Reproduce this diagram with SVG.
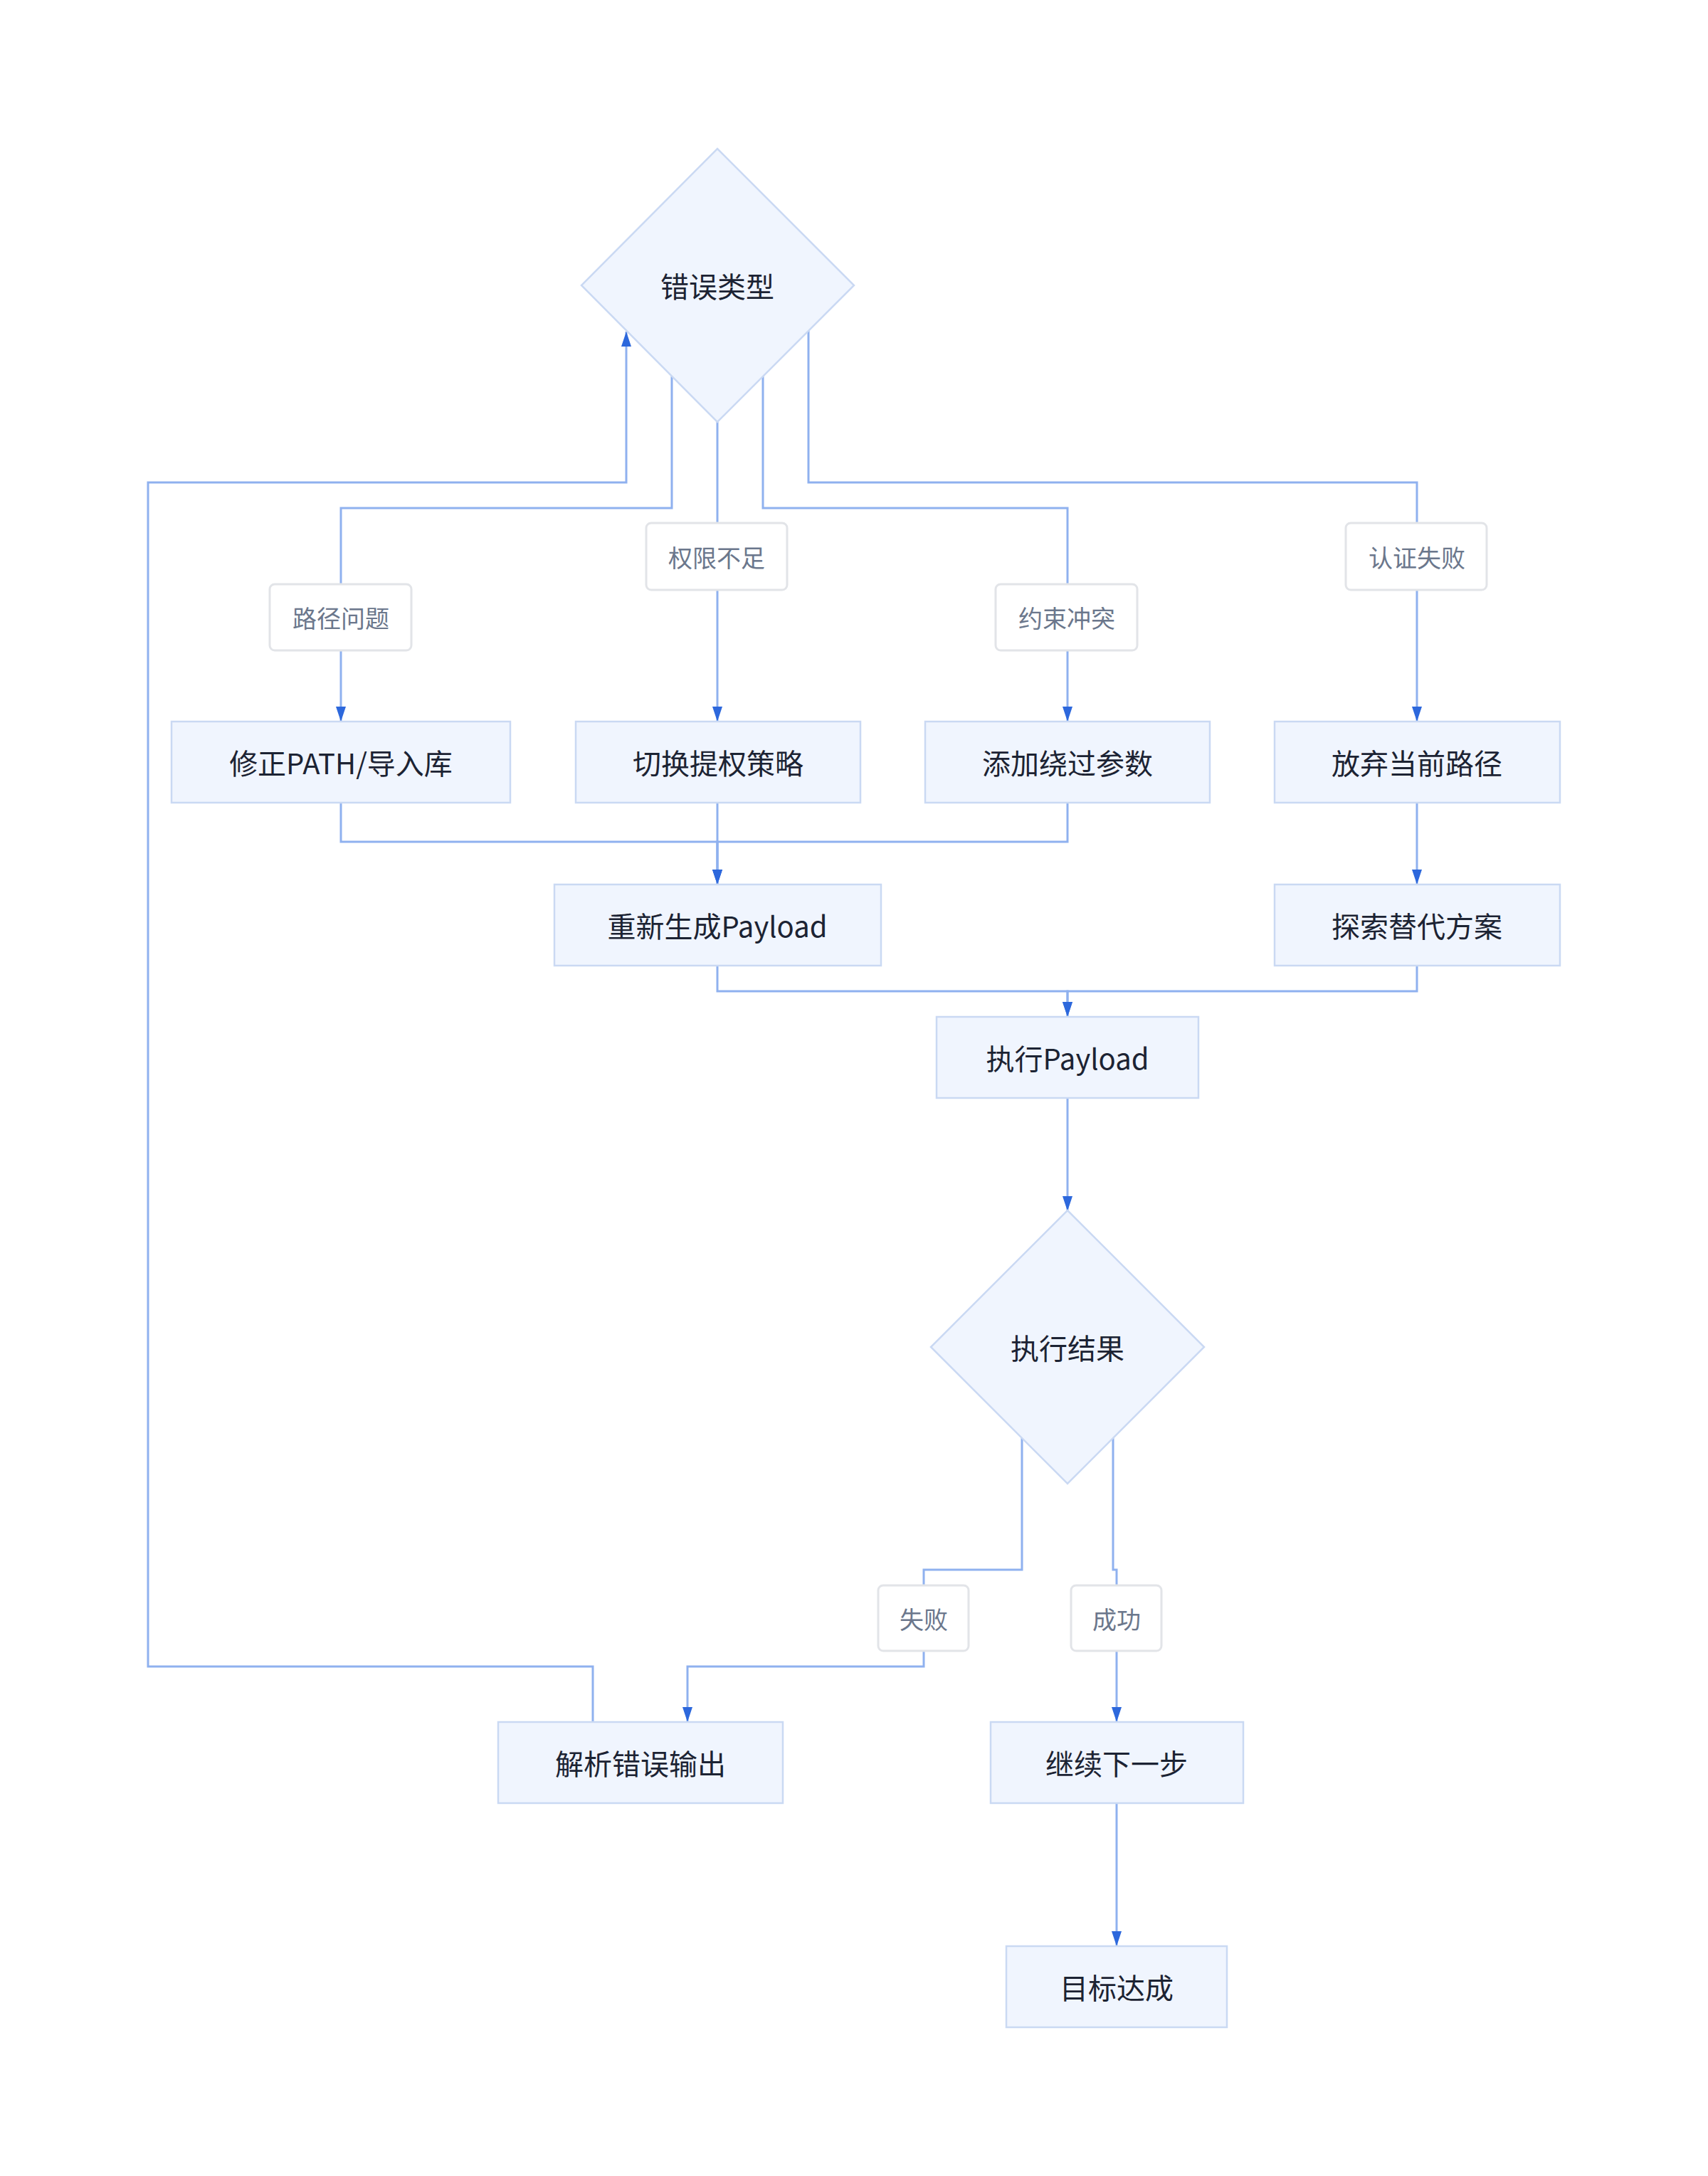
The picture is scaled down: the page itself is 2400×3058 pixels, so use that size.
<svg xmlns="http://www.w3.org/2000/svg" width="2400" height="3058" viewBox="0 0 2400 3058">
<style>
.node{fill:#f0f5fe;stroke:#cad9f3;stroke-width:2.5}
.nt{font-family:"Noto Sans CJK SC","Noto Sans",sans-serif;font-size:40px;fill:#1c2333;text-anchor:middle;dominant-baseline:central}
.edge{fill:none;stroke:#8fb1ef;stroke-width:3}
.lb{fill:#ffffff;stroke:#e2e4e8;stroke-width:3}
.lt{font-family:"Noto Sans CJK SC","Noto Sans",sans-serif;font-size:34px;fill:#6b778c;text-anchor:middle;dominant-baseline:central}
</style>
<defs>
<marker id="arr" viewBox="0 0 21 14" refX="21" refY="7" markerWidth="21" markerHeight="14" markerUnits="userSpaceOnUse" orient="auto">
<path d="M0,0 L21,7 L0,14 z" fill="#2d68dc"/>
</marker>
</defs>
<rect width="2400" height="3058" fill="#ffffff"/>
<g id="connectors">
<path class="edge" d="M833,2420 V2342 H208 V678 H880 V466" marker-end="url(#arr)"/>
<path class="edge" d="M944,529 V714 H479 V1014" marker-end="url(#arr)"/>
<path class="edge" d="M1008,593 V1014" marker-end="url(#arr)"/>
<path class="edge" d="M1072,529 V714 H1500 V1014" marker-end="url(#arr)"/>
<path class="edge" d="M1136,465 V678 H1991 V1014" marker-end="url(#arr)"/>
<path class="edge" d="M479,1128 V1183 H1008 V1243" marker-end="url(#arr)"/>
<path class="edge" d="M1008,1128 V1243" marker-end="url(#arr)"/>
<path class="edge" d="M1500,1128 V1183 H1008 V1243" marker-end="url(#arr)"/>
<path class="edge" d="M1991,1128 V1243" marker-end="url(#arr)"/>
<path class="edge" d="M1008,1357 V1393 H1500 V1429" marker-end="url(#arr)"/>
<path class="edge" d="M1991,1357 V1393 H1500 V1429" marker-end="url(#arr)"/>
<path class="edge" d="M1500,1543 V1702" marker-end="url(#arr)"/>
<path class="edge" d="M1436,2021 V2206 H1298 V2342 H966 V2420" marker-end="url(#arr)"/>
<path class="edge" d="M1564,2021 V2206 H1569 V2420" marker-end="url(#arr)"/>
<path class="edge" d="M1569,2534 V2735" marker-end="url(#arr)"/>
</g>
<g id="labels">
<g id="label-path"><rect class="lb" x="379" y="821" width="199" height="93" rx="7"/><text class="lt" x="479" y="867">路径问题</text></g>
<g id="label-priv"><rect class="lb" x="908" y="735" width="198" height="94" rx="7"/><text class="lt" x="1007" y="782">权限不足</text></g>
<g id="label-constraint"><rect class="lb" x="1399" y="821" width="199" height="93" rx="7"/><text class="lt" x="1499" y="867">约束冲突</text></g>
<g id="label-auth"><rect class="lb" x="1891" y="735" width="198" height="94" rx="7"/><text class="lt" x="1991" y="782">认证失败</text></g>
<g id="label-fail"><rect class="lb" x="1234" y="2228" width="127" height="92" rx="7"/><text class="lt" x="1298" y="2274">失败</text></g>
<g id="label-success"><rect class="lb" x="1505" y="2228" width="127" height="92" rx="7"/><text class="lt" x="1569" y="2274">成功</text></g>
</g>
<g id="n-errtype"><polygon class="node" points="1008,209 1200,401 1008,593 817,401"/><text class="nt" x="1008" y="401">错误类型</text></g>
<g id="n-fixpath"><rect class="node" x="241" y="1014" width="476" height="114"/><text class="nt" x="479" y="1071">修正PATH/导入库</text></g>
<g id="n-switch"><rect class="node" x="809" y="1014" width="400" height="114"/><text class="nt" x="1009" y="1071">切换提权策略</text></g>
<g id="n-bypass"><rect class="node" x="1300" y="1014" width="400" height="114"/><text class="nt" x="1500" y="1071">添加绕过参数</text></g>
<g id="n-abandon"><rect class="node" x="1791" y="1014" width="401" height="114"/><text class="nt" x="1991" y="1071">放弃当前路径</text></g>
<g id="n-regen"><rect class="node" x="779" y="1243" width="459" height="114"/><text class="nt" x="1008" y="1300">重新生成Payload</text></g>
<g id="n-explore"><rect class="node" x="1791" y="1243" width="401" height="114"/><text class="nt" x="1991" y="1300">探索替代方案</text></g>
<g id="n-exec"><rect class="node" x="1316" y="1429" width="368" height="114"/><text class="nt" x="1500" y="1486">执行Payload</text></g>
<g id="n-result"><polygon class="node" points="1500,1701 1692,1893 1500,2085 1308,1893"/><text class="nt" x="1500" y="1893">执行结果</text></g>
<g id="n-parse"><rect class="node" x="700" y="2420" width="400" height="114"/><text class="nt" x="900" y="2477">解析错误输出</text></g>
<g id="n-next"><rect class="node" x="1392" y="2420" width="355" height="114"/><text class="nt" x="1569" y="2477">继续下一步</text></g>
<g id="n-goal"><rect class="node" x="1414" y="2735" width="310" height="114"/><text class="nt" x="1569" y="2792">目标达成</text></g>
</svg>
